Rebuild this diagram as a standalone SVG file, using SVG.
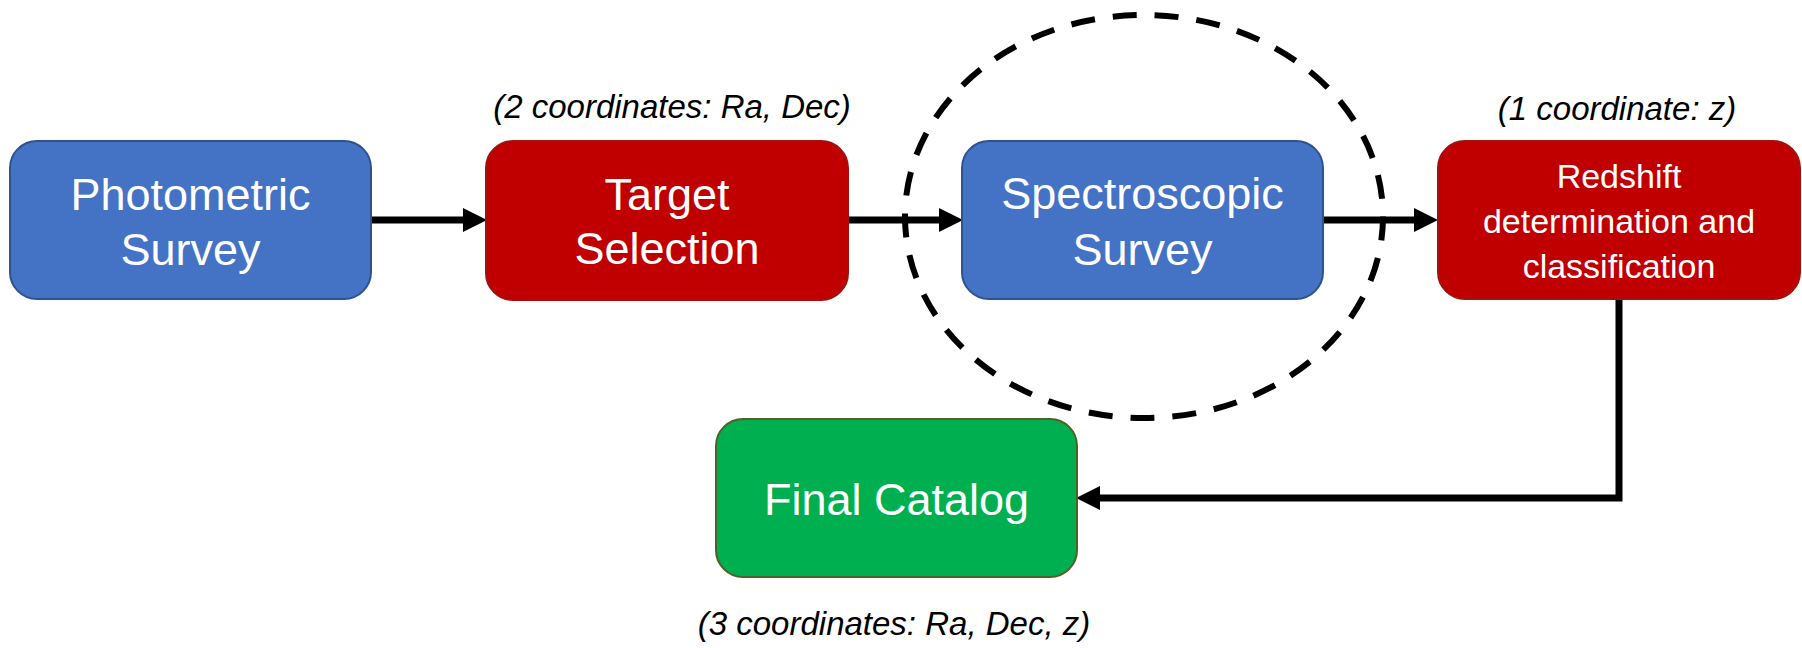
<svg xmlns="http://www.w3.org/2000/svg" width="1802" height="648" viewBox="0 0 1802 648">
<style>
.box{stroke-width:2}
.blue{fill:#4472C4;stroke:#2F528F}
.red{fill:#C00000;stroke:#A01010}
.green{fill:#00B050;stroke:#4E6128}
.t{font-family:"Liberation Sans",Arial,sans-serif;fill:#FFFFFF;text-anchor:middle}
.big{font-size:45px}
.small{font-size:34px}
.lbl{font-family:"Liberation Sans",Arial,sans-serif;font-style:italic;font-size:33px;fill:#000000;text-anchor:middle}
.conn{fill:none;stroke:#000000;stroke-width:7}
</style>
<defs>
<marker id="arr" viewBox="0 0 24 24" refX="14" refY="12" markerWidth="24" markerHeight="24" markerUnits="userSpaceOnUse" orient="auto">
<path d="M0,0 L24,12 L0,24 Z" fill="#000000"/>
</marker>
</defs>
<rect width="1802" height="648" fill="#FFFFFF"/>
<ellipse id="highlight" cx="1144" cy="216.5" rx="239" ry="201.5" fill="none" stroke="#000000" stroke-width="6" stroke-dasharray="24 18"/>
<g id="connectors">
<path class="conn" d="M371,220 H477" marker-end="url(#arr)"/>
<path class="conn" d="M848,220 H953" marker-end="url(#arr)"/>
<path class="conn" d="M1323,220 H1428" marker-end="url(#arr)"/>
<path class="conn" d="M1619,299 V498 H1086" marker-end="url(#arr)"/>
</g>
<g id="photometric">
<rect class="box blue" x="10" y="141" width="361" height="158" rx="27"/>
<text class="t big" x="190.5" y="210">Photometric</text>
<text class="t big" x="190.5" y="265">Survey</text>
</g>
<g id="target">
<rect class="box red" x="486" y="141" width="362" height="159" rx="27"/>
<text class="t big" x="667" y="210">Target</text>
<text class="t big" x="667" y="264">Selection</text>
<text class="lbl" x="672" y="118">(2 coordinates: Ra, Dec)</text>
</g>
<g id="spectroscopic">
<rect class="box blue" x="962" y="141" width="361" height="158" rx="27"/>
<text class="t big" x="1142.5" y="209">Spectroscopic</text>
<text class="t big" x="1142.5" y="265">Survey</text>
</g>
<g id="redshift">
<rect class="box red" x="1438" y="141" width="362" height="158" rx="27"/>
<text class="t small" x="1619" y="188">Redshift</text>
<text class="t small" x="1619" y="233">determination and</text>
<text class="t small" x="1619" y="278">classification</text>
<text class="lbl" x="1617" y="120">(1 coordinate: z)</text>
</g>
<g id="final">
<rect class="box green" x="716" y="419" width="361" height="158" rx="27"/>
<text class="t big" x="896.5" y="515">Final Catalog</text>
<text class="lbl" x="894" y="635">(3 coordinates: Ra, Dec, z)</text>
</g>
</svg>
